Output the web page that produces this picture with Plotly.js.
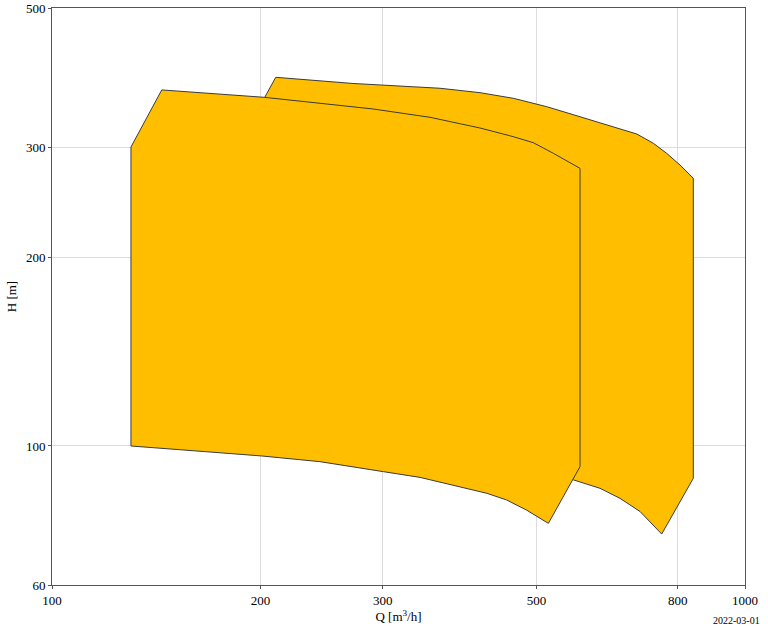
<!DOCTYPE html>
<html>
<head>
<meta charset="utf-8">
<script src="https://cdn.plot.ly/plotly-3.0.1.min.js"></script>
<style>
  html, body { margin: 0; padding: 0; background: #fff; }
  #grafico { width: 768px; height: 630px; }
</style>
</head>
<body>
<div id="grafico"></div>
<script>
// Campo de aplicação (Q x H) - duas bombas

//// Bomba de trás
const qTras = [210.3, 271.8, 363.0, 414.6, 463.2, 517.5, 578.0, 645.6, 697.9, 737.6, 770.9, 805.7, 842.2,
               842.2, 758.2, 705.6, 660.1, 617.7, 565.3, 443.1, 317.9, 189.3, 189.3, 210.3];
const hTras = [387.6, 378.9, 372.3, 366.3, 358.8, 347.9, 335.3, 323.2, 314.7, 304.1, 293.1, 280.8, 267.4,
               88.8, 72.35, 78.6, 82.5, 85.6, 88.3, 92.9, 97.8, 104.9, 313.5, 387.6];

//// Bomba da frente
const qFrente = [130, 144, 202.5, 290.6, 351.2, 414.6, 463.2, 494.9, 529.1, 553.0, 578.0,
                 578.0, 520.3, 484.1, 453.0, 424.0, 379.5, 339.7, 300.7, 243.6, 200.7, 130, 130];
const hFrente = [300, 370, 360.1, 345.0, 334.6, 321.7, 311.6, 304.8, 293.1, 285.3, 277.4,
                 92.7, 75.25, 79.0, 82.0, 84.05, 86.6, 89.1, 91.0, 94.4, 96.4, 100, 300];

//// Eixos
const xTicks = [100, 200, 300, 500, 800, 1000];
const yTicks = [60, 100, 200, 300, 500];

const corArea = 'rgb(255,191,0)';
const corBorda = '#3a3a3a';

var tras = {
    x: qTras,
    y: hTras,
    mode: 'lines',
    type: 'scatter',
    fill: 'toself',
    fillcolor: corArea,
    line: {color: corBorda, width: 1},
    hoverinfo: 'skip',
    showlegend: false
};

var frente = {
    x: qFrente,
    y: hFrente,
    mode: 'lines',
    type: 'scatter',
    fill: 'toself',
    fillcolor: corArea,
    line: {color: corBorda, width: 1},
    hoverinfo: 'skip',
    showlegend: false
};

var fonteSerif = 'Liberation Serif, DejaVu Serif, serif';

var layout = {
    width: 768,
    height: 630,
    margin: { l: 52, r: 23, t: 8, b: 45 },
    paper_bgcolor: '#fff',
    plot_bgcolor: '#fff',
    font: { family: fonteSerif, size: 13, color: '#000' },
    xaxis: {
        type: 'log',
        range: [2, 3],
        tickvals: xTicks,
        ticktext: xTicks.map(String),
        ticks: 'outside',
        ticklen: 3,
        tickcolor: '#555',
        showgrid: true,
        gridcolor: '#dcdcdc',
        gridwidth: 1,
        showline: true,
        linecolor: '#555',
        linewidth: 1,
        mirror: true,
        zeroline: false,
        tickfont: { family: fonteSerif, size: 13 },
        title: { text: 'Q [m<sup>3</sup>/h]', font: { family: fonteSerif, size: 13 }, standoff: 4 }
    },
    yaxis: {
        type: 'log',
        range: [Math.log10(60), Math.log10(500)],
        tickvals: yTicks,
        ticktext: yTicks.map(String),
        ticks: 'outside',
        ticklen: 3,
        tickcolor: '#555',
        showgrid: true,
        gridcolor: '#dcdcdc',
        gridwidth: 1,
        showline: true,
        linecolor: '#555',
        linewidth: 1,
        mirror: true,
        zeroline: false,
        tickfont: { family: fonteSerif, size: 13 },
        title: { text: 'H [m]', font: { family: fonteSerif, size: 13 }, standoff: 6 }
    },
    annotations: [{
        text: '2022-03-01',
        xref: 'paper',
        yref: 'paper',
        x: 1.025,
        y: -0.062,
        xanchor: 'right',
        yanchor: 'middle',
        showarrow: false,
        font: { family: fonteSerif, size: 10, color: '#000' }
    }]
};

Plotly.newPlot('grafico', [tras, frente], layout, {displayModeBar: false, staticPlot: true});
</script>
</body>
</html>
